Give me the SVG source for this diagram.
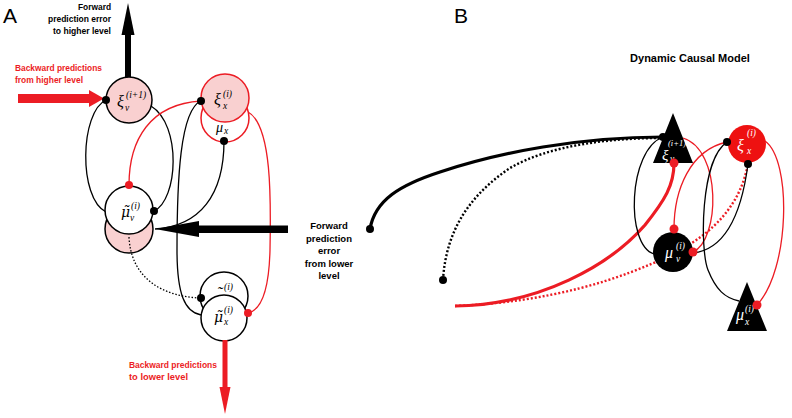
<svg xmlns="http://www.w3.org/2000/svg" width="792" height="418" viewBox="0 0 792 418">
<style>
.lbl{font-family:"Liberation Sans",Arial,sans-serif;font-weight:bold;font-size:9.5px;fill:#000}
.red{fill:#ec1c24}
.pl{font-family:"Liberation Sans",Arial,sans-serif;font-size:21px;fill:#000}
.m{font-family:"Liberation Serif","DejaVu Serif",serif;font-style:italic;font-size:16px;fill:#000}
.mt{font-family:"DejaVu Serif",serif;font-style:italic;font-size:14px;fill:#000}
.s{font-family:"Liberation Serif","DejaVu Serif",serif;font-style:italic;font-size:9.5px;fill:#000}
.w{fill:#fff}
.ln{fill:none;stroke:#000;stroke-width:1.3}
.rl{fill:none;stroke:#ec1c24;stroke-width:1.3}
.dt{fill:none;stroke:#000;stroke-width:1.3;stroke-dasharray:1.5,1.8}
.pk{fill:#f9d0d0;stroke:#000;stroke-width:1.5}
.wc{fill:#fff;stroke:#000;stroke-width:1.5}
.bd{fill:#000}
.rd{fill:#ec1c24}
</style>

<!-- Panel labels -->
<text class="pl" x="3" y="23">A</text>
<text class="pl" x="454" y="23">B</text>

<!-- Panel A texts -->
<g id="A-texts">
<text class="lbl" x="111" y="10" text-anchor="end" textLength="33" lengthAdjust="spacingAndGlyphs">Forward</text>
<text class="lbl" x="111" y="22" text-anchor="end" textLength="63" lengthAdjust="spacingAndGlyphs">prediction error</text>
<text class="lbl" x="111" y="34" text-anchor="end" textLength="58" lengthAdjust="spacingAndGlyphs">to higher level</text>
<text class="lbl red" x="15" y="71" textLength="87" lengthAdjust="spacingAndGlyphs">Backward predictions</text>
<text class="lbl red" x="15" y="83" textLength="68" lengthAdjust="spacingAndGlyphs">from higher level</text>
<text class="lbl" x="329" y="229" text-anchor="middle">Forward</text>
<text class="lbl" x="329" y="241.5" text-anchor="middle">prediction</text>
<text class="lbl" x="329" y="254" text-anchor="middle">error</text>
<text class="lbl" x="329" y="266.5" text-anchor="middle">from lower</text>
<text class="lbl" x="329" y="279" text-anchor="middle">level</text>
<text class="lbl red" x="129" y="368" textLength="88" lengthAdjust="spacingAndGlyphs">Backward predictions</text>
<text class="lbl red" x="129" y="380" textLength="59" lengthAdjust="spacingAndGlyphs">to lower level</text>
</g>

<!-- Panel A connectors -->
<g id="A-connectors">
<path class="ln" d="M106,100 C80,112 78,198 106,212"/>
<path class="ln" d="M151,106 C182,125 178,200 154,211"/>
<path class="ln" d="M201,101 C180,110 177,180 177,250 C177,295 185,312 201,315"/>
<path class="ln" d="M224,141 C224,195 200,226 155,229"/>
<path class="rl" d="M248,112 C272,125 271,200 270,250 C269,290 262,310 248,313"/>
<path class="rl" d="M201,101 C150,104 129,140 129,185"/>
</g>

<!-- Panel A nodes -->
<g id="A-xi-v-ip1">
<circle class="pk" cx="129" cy="100" r="23"/>
<text class="m" x="117" y="107">ξ</text>
<text class="s" x="126" y="98">(i+1)</text>
<text class="s" x="125" y="111">v</text>
</g>
<g id="A-mu-x-prime">
<circle cx="225" cy="118" r="24" fill="#fff" stroke="#ec1c24" stroke-width="1.5"/>
<text class="m" x="216" y="132" style="font-size:14px">μ</text>
<text class="s" x="224" y="134">x</text>
</g>
<g id="A-xi-x">
<circle cx="225" cy="98" r="24" fill="#f9d0d0" stroke="#ec1c24" stroke-width="1.5"/>
<text class="m" x="214" y="105">ξ</text>
<text class="s" x="223" y="97">(i)</text>
<text class="s" x="223" y="109">x</text>
</g>
<g id="A-mu-v-prime">
<circle class="pk" cx="129" cy="229" r="24"/>
</g>
<g id="A-mu-v">
<circle class="wc" cx="129" cy="210" r="24"/>
<text class="mt" x="121" y="217">μ̃</text>
<text class="s" x="131" y="209">(i)</text>
<text class="s" x="130" y="221">v</text>
</g>
<g id="A-mu-x-tilde-prime">
<circle class="wc" cx="224" cy="296" r="24"/>
<text class="m" x="217" y="298">˜</text>
<text class="s" x="224" y="290">(i)</text>
</g>
<g id="A-mu-x">
<circle class="wc" cx="224" cy="318" r="23"/>
<text class="mt" x="214" y="322">μ̃</text>
<text class="s" x="224" y="313">(i)</text>
<text class="s" x="224" y="325">x</text>
</g>

<g id="A-connectors-dotted">
<path class="dt" d="M129,237 C131,280 165,297 201,298"/>
</g>

<!-- Panel A arrows -->
<g id="A-arrows">
<rect x="125" y="32" width="6" height="45" class="bd"/>
<polygon class="bd" points="128,3 121.5,35 134.5,35"/>
<rect x="18" y="94" width="74" height="9" class="rd"/>
<polygon class="rd" points="104,98.5 89,90 89,107"/>
<rect x="196" y="225.5" width="92" height="7.5" class="bd"/>
<polygon class="bd" points="155,229 199,221 199,237"/>
<rect x="222.5" y="340" width="5" height="50" class="rd"/>
<polygon class="rd" points="225,414 219.5,387 230.5,387"/>
</g>

<!-- Panel A dots -->
<g id="A-dots">
<circle class="bd" cx="106" cy="100" r="4"/>
<circle class="bd" cx="201" cy="101" r="4"/>
<circle class="bd" cx="224" cy="141" r="4"/>
<circle class="rd" cx="129" cy="185" r="4"/>
<circle class="bd" cx="154" cy="211" r="4"/>
<circle class="bd" cx="201" cy="298" r="4"/>
<circle class="rd" cx="248" cy="313" r="4"/>
</g>

<!-- Panel B -->
<text class="lbl" x="690" y="62" text-anchor="middle" style="font-size:11px">Dynamic Causal Model</text>

<g id="B-connectors">
<path fill="none" stroke="#000" stroke-width="3.2" d="M370,229 C375,200 400,185 440,172 C500,152 580,137 663,137"/>
<path fill="none" stroke="#000" stroke-width="2.4" stroke-dasharray="2,2" d="M443,280 C446,230 470,195 510,168 C550,145 610,138 663,138"/>
<path fill="none" stroke="#ec1c24" stroke-width="3.2" d="M455,306 C540,305 610,265 645,225 C665,200 674,185 674,163"/>
<path fill="none" stroke="#ec1c24" stroke-width="2.4" stroke-dasharray="2,2" d="M455,306 C550,302 620,280 673,254 C715,232 740,205 748,164"/>
<path class="ln" d="M663,137 C628,150 625,245 654,254"/>
<path class="rl" d="M683,138 C722,150 720,240 693,252"/>
<path class="rl" d="M727,142 C690,150 674,190 674,229"/>
<path class="ln" d="M693,253 C720,250 740,225 748,164"/>
<path class="ln" d="M727,142 C700,160 700,250 708,270 C716,290 725,298 739,301"/>
<path class="rl" d="M765,141 C792,160 790,270 757,305"/>
</g>

<g id="B-xi-v-ip1">
<polygon class="bd" points="673,113 653,163 693,163"/>
<text class="m w" x="662" y="160" style="font-size:15px">ξ</text>
<text class="s w" x="668" y="146" style="font-size:8.5px">(i+1)</text>
<text class="s w" x="670" y="162">v</text>
</g>
<g id="B-xi-x">
<circle cx="747" cy="144" r="19" fill="#ee1111"/>
<text class="m w" x="737" y="151">ξ</text>
<text class="s w" x="747" y="136">(i)</text>
<text class="s w" x="747" y="154">x</text>
</g>
<g id="B-mu-v">
<circle cx="673" cy="252" r="20" fill="#000"/>
<text class="m w" x="665" y="258">μ</text>
<text class="s w" x="676" y="249">(i)</text>
<text class="s w" x="676" y="262">v</text>
</g>
<g id="B-mu-x">
<polygon class="bd" points="747,282 727,331 767,331"/>
<text class="m w" x="736" y="320">μ</text>
<text class="s w" x="745" y="312">(i)</text>
<text class="s w" x="745" y="325">x</text>
</g>

<g id="B-dots">
<circle class="bd" cx="370" cy="229" r="4"/>
<circle class="bd" cx="443" cy="280" r="4"/>
<circle class="bd" cx="663" cy="137" r="4"/>
<circle class="bd" cx="727" cy="142" r="4"/>
<circle class="bd" cx="748" cy="164" r="4"/>
<circle class="rd" cx="674" cy="163" r="4.5"/>
<circle class="rd" cx="674" cy="229" r="4.5"/>
<circle class="rd" cx="693" cy="252" r="4.5"/>
<circle class="rd" cx="757" cy="305" r="4.5"/>
</g>
</svg>
